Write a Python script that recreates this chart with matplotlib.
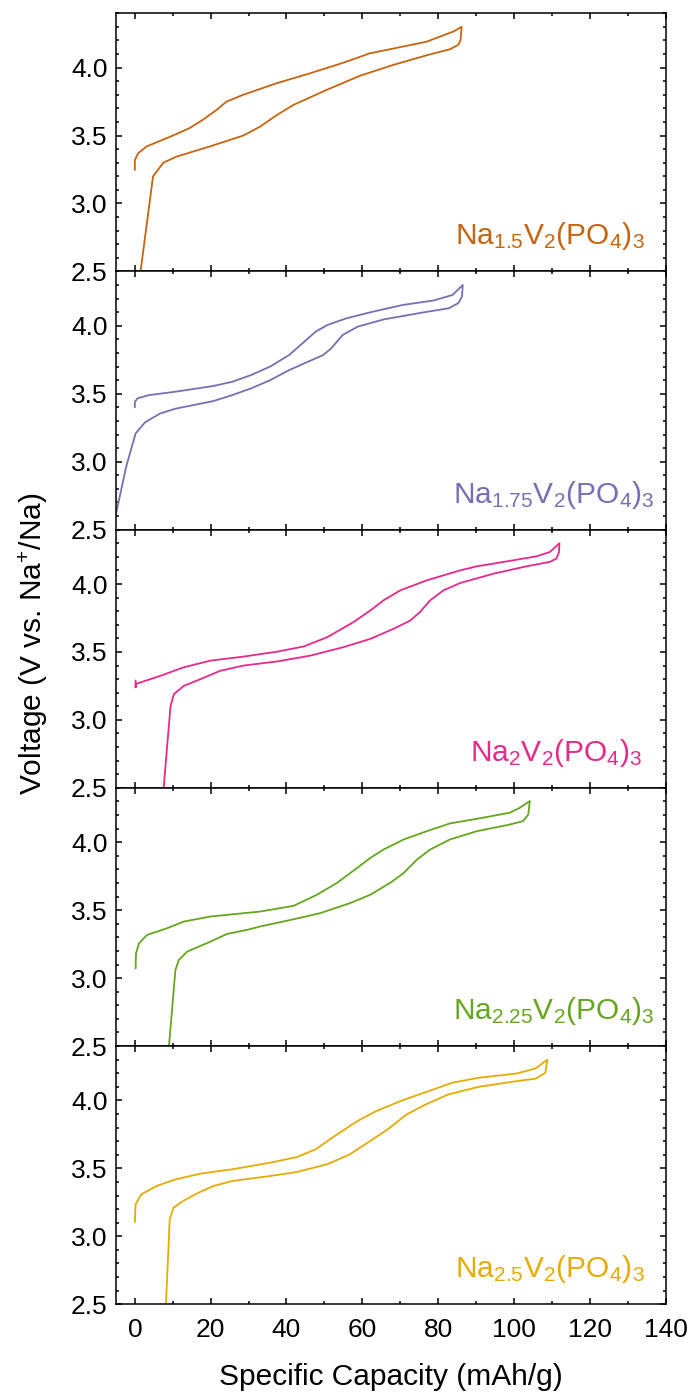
import numpy as np
import matplotlib
matplotlib.use("Agg")
from matplotlib import pyplot as plt
from matplotlib.ticker import MultipleLocator

plt.rcParams['font.family'] = ['Liberation Sans', 'DejaVu Sans']
plt.rcParams['mathtext.default'] = 'regular'

# sample names and colours, top to bottom
names = [r'Na$_{1.5}$V$_2$(PO$_4$)$_3$',
         r'Na$_{1.75}$V$_2$(PO$_4$)$_3$',
         r'Na$_2$V$_2$(PO$_4$)$_3$',
         r'Na$_{2.25}$V$_2$(PO$_4$)$_3$',
         r'Na$_{2.5}$V$_2$(PO$_4$)$_3$']
colors = ['#C66410', '#7570B3', '#E7298A', '#66A61E', '#E6AB02']

# charge branch (left -> right), then discharge branch (right -> left)
cap_15 = [1.5, 4.8, 7.5, 11, 19.8, 28.6, 33, 37.4, 41.8, 50.6, 59.4, 68.2, 76.9, 83.1, 85.3, 85.9, 86.2,
          84, 76.9, 66.4, 62, 55, 46.2, 37.4, 28.6, 24.2, 21.6, 17.9, 14.4, 9.2, 3.1, 0.9, 0, 0]
v_15 = [2.5, 3.2, 3.3, 3.345, 3.42, 3.5, 3.565, 3.65, 3.725, 3.836, 3.94, 4.02, 4.09, 4.135, 4.167, 4.2, 4.3,
        4.265, 4.19, 4.13, 4.105, 4.036, 3.958, 3.885, 3.8, 3.75, 3.69, 3.615, 3.554, 3.49, 3.42, 3.37, 3.32, 3.247]

cap_175 = [-5.4, -2.3, 0.2, 2.7, 6.7, 10.7, 20.7, 25.7, 30.7, 35.7, 40.7, 45.7, 49.7, 51.8, 54.8, 58.8,
           65.8, 75.8, 82.8, 85.3, 86.3, 86.5,
           83.8, 78.8, 70.8, 62.8, 55.8, 50.8, 47.7, 44.7, 40.7, 35.7, 30.7, 25.7, 20.7, 10.7, 3.7, 0.7, 0, 0]
v_175 = [2.56, 2.962, 3.208, 3.29, 3.355, 3.39, 3.446, 3.49, 3.54, 3.6, 3.674, 3.736, 3.785, 3.834, 3.932, 3.994,
         4.048, 4.097, 4.129, 4.166, 4.215, 4.3,
         4.227, 4.186, 4.154, 4.104, 4.055, 4.006, 3.957, 3.883, 3.785, 3.7, 3.638, 3.588, 3.557, 3.515, 3.49,
         3.466, 3.44, 3.4]

cap_20 = [7.6, 9.4, 10.3, 12.9, 17.3, 22.6, 28.7, 37.5, 46.3, 55, 62.1, 68.2, 72.6, 75.2, 77.9, 81.4, 85.8,
          94.6, 103.3, 109.5, 111.2, 111.9, 112,
          109.5, 106, 98.9, 90.2, 85.8, 77, 70, 65.6, 62.1, 57.7, 50.7, 44.5, 37.5, 28.7, 19.9, 12.9, 6.8, 1.5,
          0.2, 0.2, 0.2]
v_20 = [2.5, 3.1, 3.19, 3.25, 3.3, 3.362, 3.4, 3.43, 3.473, 3.535, 3.596, 3.67, 3.73, 3.793, 3.88, 3.953, 4.007,
        4.076, 4.13, 4.163, 4.187, 4.236, 4.3,
        4.236, 4.204, 4.17, 4.13, 4.1, 4.027, 3.953, 3.88, 3.805, 3.72, 3.608, 3.54, 3.502, 3.466, 3.436, 3.387,
        3.325, 3.276, 3.264, 3.24, 3.29]

cap_225 = [9.0, 10.7, 11.6, 13.8, 19.9, 24.3, 29.6, 33.1, 41.9, 48.9, 56.8, 62.1, 67.3, 70.9, 74.4, 77.9, 83.1,
           90.2, 98.9, 102.4, 103.8, 104.2,
           101.6, 98.9, 90.2, 83.1, 77, 70.9, 65.6, 62.1, 58.6, 53.3, 48, 41.9, 33.1, 19.9, 12.9, 8.5, 3.2, 1.1,
           0.3, 0.2]
v_225 = [2.5, 3.06, 3.133, 3.195, 3.268, 3.325, 3.355, 3.38, 3.433, 3.478, 3.552, 3.613, 3.7, 3.773, 3.872,
         3.946, 4.02, 4.081, 4.13, 4.155, 4.204, 4.303,
         4.254, 4.217, 4.172, 4.138, 4.081, 4.02, 3.946, 3.884, 3.81, 3.7, 3.613, 3.532, 3.49, 3.453, 3.416,
         3.367, 3.318, 3.256, 3.182, 3.071]

cap_25 = [8.2, 9.2, 10.2, 12.7, 16.7, 20.7, 25.7, 35.7, 42.7, 50.7, 56.7, 60.7, 66.7, 71.7, 76.7, 82.7, 90.7,
          100.7, 105.7, 108.3, 108.8,
          105.7, 100.7, 90.7, 83.7, 78.8, 70.8, 63.7, 58.7, 52.7, 47.7, 42.7, 35.7, 25.7, 17.7, 10.7, 5.7, 1.7,
          0.2, 0]
v_25 = [2.5, 3.125, 3.21, 3.26, 3.32, 3.37, 3.407, 3.444, 3.473, 3.53, 3.603, 3.676, 3.787, 3.897, 3.97, 4.044,
        4.1, 4.142, 4.16, 4.203, 4.3,
        4.235, 4.198, 4.167, 4.13, 4.081, 4.003, 3.922, 3.848, 3.738, 3.64, 3.583, 3.542, 3.493, 3.463, 3.419,
        3.37, 3.309, 3.235, 3.105]

capacities = [cap_15, cap_175, cap_20, cap_225, cap_25]
voltages = [v_15, v_175, v_20, v_225, v_25]
label_x = [0.962, 0.98, 0.958, 0.98, 0.962]

fig, axes = plt.subplots(5, 1, figsize=(6.94, 13.93), dpi=100, sharex=True)
fig.subplots_adjust(left=0.167, right=0.959, top=0.9905, bottom=0.0637, hspace=0)

for i, ax in enumerate(axes):
    ax.plot(capacities[i], voltages[i], color=colors[i], lw=1.3,
            solid_joinstyle='round', solid_capstyle='round')
    ax.set_xlim(-5, 140)
    ax.set_ylim(2.5, 4.4)
    ax.set_yticks([2.5, 3.0, 3.5, 4.0])
    ax.yaxis.set_minor_locator(MultipleLocator(0.1))
    ax.xaxis.set_major_locator(MultipleLocator(20))
    ax.xaxis.set_minor_locator(MultipleLocator(10))
    ax.tick_params(which='both', direction='in', top=True, right=True, width=1.1)
    ax.tick_params(which='major', length=4, labelsize=19, pad=6)
    ax.tick_params(which='minor', length=2.2)
    ax.tick_params(axis='x', pad=10)
    for s in ax.spines.values():
        s.set_linewidth(1.1)
    ax.text(label_x[i], 0.105, names[i], transform=ax.transAxes, ha='right', va='baseline',
            color=colors[i], fontsize=21.5)

axes[-1].set_xlabel('Specific Capacity (mAh/g)', fontsize=21.5, labelpad=15)
fig.text(0.048, 1 - 644 / 1393, 'Voltage (V vs. Na$^{+}$/Na)', rotation=90,
         ha='center', va='center', fontsize=21.5)

plt.savefig('out.png', dpi=100)
